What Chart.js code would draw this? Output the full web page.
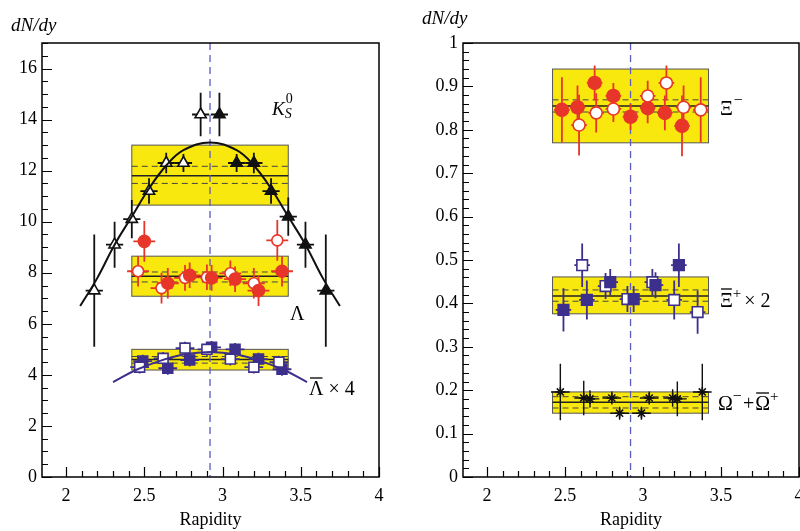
<!DOCTYPE html>
<html>
<head>
<meta charset="utf-8">
<script src="https://cdn.jsdelivr.net/npm/chart.js@4.4.1/dist/chart.umd.min.js"></script>
<style>
  html, body { margin: 0; padding: 0; background: #fff; overflow: hidden; width: 800px; height: 531px; }
  canvas { position: absolute; top: 0; }
  #left { left: 0; }
  #right { left: 400px; }
</style>
</head>
<body>
<canvas id="left" width="400" height="531" style="width:400px;height:531px"></canvas>
<canvas id="right" width="420" height="531" style="width:420px;height:531px"></canvas>
<script>
// Mid-rapidity line
const midRapidity = 2.92;

// Left panel: K0s (triangles), Lambda (circles), anti-Lambda x4 (squares)
const kOpenX = [2.18, 2.31, 2.42, 2.53, 2.64, 2.75, 2.86];
const kOpenY = [7.3, 9.1, 10.1, 11.2, 12.3, 12.3, 14.2];
const kOpenErr = [2.2, 0.9, 0.75, 0.5, 0.4, 0.35, 0.85];
const kFullX = [2.98, 3.09, 3.20, 3.31, 3.42, 3.53, 3.66];
const kFullY = [14.2, 12.3, 12.3, 11.2, 10.2, 9.1, 7.3];
const kFullErr = [0.85, 0.35, 0.4, 0.5, 0.75, 0.9, 2.2];
const kFitX = [2.09, 2.20, 2.31, 2.42, 2.53, 2.64, 2.75, 2.92, 3.09, 3.20, 3.31, 3.42, 3.53, 3.64, 3.75];
const kFitY = [6.7, 7.8, 9.1, 10.2, 11.3, 12.2, 12.8, 13.1, 12.8, 12.2, 11.3, 10.2, 9.1, 7.8, 6.7];

const lamFullX = [2.50, 2.65, 2.79, 2.93, 3.08, 3.23, 3.38];
const lamFullY = [9.23, 7.59, 7.9, 7.8, 7.75, 7.3, 8.06];
const lamFullErr = [0.8, 0.6, 0.5, 0.5, 0.5, 0.6, 0.6];
const lamOpenX = [2.46, 2.61, 2.76, 2.90, 3.05, 3.20, 3.35];
const lamOpenY = [8.06, 7.4, 7.8, 7.82, 7.98, 7.59, 9.27];
const lamOpenErr = [0.6, 0.6, 0.5, 0.5, 0.5, 0.6, 0.8];

const alamFullX = [2.49, 2.65, 2.79, 2.93, 3.08, 3.23, 3.38];
const alamFullY = [4.54, 4.26, 4.58, 5.08, 5.0, 4.62, 4.22];
const alamOpenX = [2.47, 2.62, 2.76, 2.90, 3.05, 3.20, 3.36];
const alamOpenY = [4.30, 4.65, 5.05, 5.0, 4.62, 4.30, 4.5];
const alamErr = [0.25, 0.25, 0.25, 0.25, 0.25, 0.25, 0.25];
const alamFitX = [2.30, 2.45, 2.60, 2.75, 2.92, 3.09, 3.24, 3.39, 3.54];
const alamFitY = [3.72, 4.2, 4.55, 4.8, 4.9, 4.8, 4.55, 4.2, 3.72];

// Right panel: Xi- (circles), anti-Xi+ x2 (squares), Omega (stars)
const xiFullX = [2.48, 2.58, 2.69, 2.81, 2.92, 3.03, 3.14, 3.25];
const xiFullY = [0.846, 0.852, 0.908, 0.878, 0.83, 0.85, 0.839, 0.809];
const xiFullErr = [0.075, 0.05, 0.04, 0.03, 0.03, 0.035, 0.04, 0.07];
const xiOpenX = [2.59, 2.70, 2.81, 3.03, 3.15, 3.26, 3.37];
const xiOpenY = [0.811, 0.839, 0.848, 0.878, 0.908, 0.852, 0.846];
const xiOpenErr = [0.07, 0.045, 0.03, 0.035, 0.04, 0.05, 0.075];

const axiFullX = [2.49, 2.64, 2.79, 2.94, 3.08, 3.23];
const axiFullY = [0.385, 0.408, 0.449, 0.41, 0.442, 0.488];
const axiFullErr = [0.05, 0.045, 0.03, 0.03, 0.03, 0.05];
const axiOpenX = [2.61, 2.76, 2.90, 3.06, 3.20, 3.35];
const axiOpenY = [0.488, 0.44, 0.41, 0.449, 0.408, 0.38];
const axiOpenErr = [0.05, 0.03, 0.03, 0.03, 0.045, 0.05];

const omX = [2.47, 2.62, 2.66, 2.80, 2.85, 2.99, 3.04, 3.19, 3.22, 3.38];
const omY = [0.196, 0.182, 0.180, 0.182, 0.147, 0.147, 0.182, 0.182, 0.180, 0.196];
const omErr = [0.065, 0.04, 0.02, 0.015, 0.015, 0.015, 0.015, 0.02, 0.04, 0.065];

// Systematic bands: [x0, x1], [low, high], mean, dashed lines
const bandX = [2.42, 3.42];
const kBand = { y: [10.65, 13.0], mean: 11.8, dash: [11.5, 12.17] };
const lamBand = { y: [7.08, 8.65], mean: 7.86, dash: [7.64, 8.03] };
const alamBand = { y: [4.19, 5.0], mean: 4.6, dash: [4.46, 4.72] };
const xiBand = { y: [0.77, 0.94], mean: 0.855, dash: [0.841, 0.869] };
const axiBand = { y: [0.376, 0.461], mean: 0.417, dash: [0.405, 0.431] };
const omBand = { y: [0.147, 0.196], mean: 0.172, dash: [0.159, 0.185] };

const FONT = '"Liberation Serif", "Times New Roman", serif';
const RED = '#e8352a';
const BLUE = '#3d2f8c';

const pts = (xs, ys) => xs.map((x, i) => ({ x, y: ys[i] }));

function markers(xs, ys, err, xErr, style, color, open, radius) {
  return {
    data: pts(xs, ys),
    yErr: err,
    xErr: xErr,
    pointStyle: style,
    pointRadius: radius,
    borderColor: color,
    backgroundColor: open ? '#fff' : color,
    pointBorderWidth: 1.6,
    showLine: false
  };
}

function curve(xs, ys, color) {
  return {
    data: pts(xs, ys),
    showLine: true,
    pointRadius: 0,
    borderColor: color,
    borderWidth: 2,
    tension: 0.4,
    fill: false
  };
}

// text with super/subscripts; parts = {t, size, it, dy, bar, stay}
function rich(ctx, x, y, parts) {
  ctx.fillStyle = '#000';
  ctx.strokeStyle = '#000';
  ctx.textBaseline = 'alphabetic';
  ctx.textAlign = 'left';
  parts.forEach(p => {
    ctx.font = (p.it ? 'italic ' : '') + p.size + 'px ' + FONT;
    const w = ctx.measureText(p.t).width;
    const xx = x + (p.dx || 0);
    ctx.fillText(p.t, xx, y + (p.dy || 0));
    if (p.bar) {
      ctx.lineWidth = 1.3;
      ctx.beginPath();
      ctx.moveTo(xx + 1, y - p.bar);
      ctx.lineTo(xx + w - 1, y - p.bar);
      ctx.stroke();
    }
    if (!p.stay) x = xx + w;
  });
}

function makePanel(cfg) {
  return {
    id: 'panel',
    beforeDatasetsDraw(chart) {
      const ctx = chart.ctx, sx = chart.scales.x, sy = chart.scales.y, a = chart.chartArea;
      ctx.save();
      const x0 = sx.getPixelForValue(bandX[0]), x1 = sx.getPixelForValue(bandX[1]);
      cfg.bands.forEach(b => {
        const yt = sy.getPixelForValue(b.y[1]), yb = sy.getPixelForValue(b.y[0]);
        ctx.fillStyle = '#f9e80e';
        ctx.fillRect(x0, yt, x1 - x0, yb - yt);
        ctx.strokeStyle = '#555';
        ctx.lineWidth = 1;
        ctx.setLineDash([]);
        ctx.strokeRect(x0, yt, x1 - x0, yb - yt);
        ctx.strokeStyle = '#222';
        ctx.lineWidth = 1.5;
        ctx.beginPath();
        ctx.moveTo(x0, sy.getPixelForValue(b.mean));
        ctx.lineTo(x1, sy.getPixelForValue(b.mean));
        ctx.stroke();
        ctx.strokeStyle = '#444';
        ctx.lineWidth = 1;
        ctx.setLineDash([6, 4]);
        b.dash.forEach(v => {
          ctx.beginPath();
          ctx.moveTo(x0, sy.getPixelForValue(v));
          ctx.lineTo(x1, sy.getPixelForValue(v));
          ctx.stroke();
        });
        ctx.setLineDash([]);
      });
      // mid-rapidity dashed line
      const xm = sx.getPixelForValue(midRapidity);
      ctx.strokeStyle = '#5b5bc0';
      ctx.lineWidth = 1.3;
      ctx.setLineDash([7, 5]);
      ctx.beginPath();
      ctx.moveTo(xm, a.top);
      ctx.lineTo(xm, a.bottom);
      ctx.stroke();
      ctx.setLineDash([]);
      // error bars
      chart.data.datasets.forEach(ds => {
        if (!ds.yErr) return;
        ctx.strokeStyle = ds.borderColor;
        ctx.lineWidth = ds.errWidth || 1.8;
        ds.data.forEach((p, j) => {
          const cx = sx.getPixelForValue(p.x), cy = sy.getPixelForValue(p.y);
          ctx.beginPath();
          ctx.moveTo(cx, sy.getPixelForValue(p.y - ds.yErr[j]));
          ctx.lineTo(cx, sy.getPixelForValue(p.y + ds.yErr[j]));
          ctx.moveTo(sx.getPixelForValue(p.x - ds.xErr), cy);
          ctx.lineTo(sx.getPixelForValue(p.x + ds.xErr), cy);
          ctx.stroke();
        });
      });
      ctx.restore();
    },
    afterDraw(chart) {
      const ctx = chart.ctx, sx = chart.scales.x, sy = chart.scales.y, a = chart.chartArea;
      ctx.save();
      ctx.strokeStyle = '#000';
      ctx.lineWidth = 1.5;
      ctx.strokeRect(a.left, a.top, a.right - a.left, a.bottom - a.top);
      ctx.lineWidth = 1.2;
      ctx.beginPath();
      const isMajor = (v, m) => Math.abs(v / m - Math.round(v / m)) < 1e-6;
      for (let v = 2; v <= 4.0001; v += 0.1) {
        const x = Math.round(sx.getPixelForValue(v)) + 0.5;
        const len = isMajor(v, 0.5) ? 10 : 6;
        ctx.moveTo(x, a.bottom);
        ctx.lineTo(x, a.bottom - len);
      }
      for (let v = 0; v <= cfg.yMax + 1e-9; v += cfg.yMinor) {
        const y = Math.round(sy.getPixelForValue(v)) + 0.5;
        const len = isMajor(v, cfg.yMajor) ? 10 : 6;
        ctx.moveTo(a.left, y);
        ctx.lineTo(a.left + len, y);
      }
      ctx.stroke();
      cfg.labels(ctx);
      ctx.restore();
    }
  };
}

function axes(yMax, yStep, yWidth, yFmt) {
  return {
    x: {
      type: 'linear', min: 1.846, max: 4.0,
      grid: { display: false, drawTicks: false },
      border: { display: false },
      ticks: {
        stepSize: 0.5, includeBounds: false, color: '#000', font: { family: FONT, size: 18 },
        padding: 8, maxRotation: 0, callback: v => String(Math.round(v * 10) / 10)
      },
      title: { display: true, text: 'Rapidity', color: '#000', font: { family: FONT, size: 18 }, padding: { top: 0, bottom: 0 } },
      afterFit: s => { s.height = 54; }
    },
    y: {
      type: 'linear', min: 0, max: yMax,
      grid: { display: false, drawTicks: false },
      border: { display: false },
      ticks: { stepSize: yStep, includeBounds: false, color: '#000', font: { family: FONT, size: 18 }, padding: 5, callback: yFmt },
      afterFit: s => { s.width = yWidth; }
    }
  };
}

new Chart(document.getElementById('left'), {
  type: 'scatter',
  data: {
    datasets: [
      curve(kFitX, kFitY, '#111'),
      curve(alamFitX, alamFitY, BLUE),
      markers(lamFullX, lamFullY, lamFullErr, 0.07, 'circle', RED, false, 6),
      markers(lamOpenX, lamOpenY, lamOpenErr, 0.07, 'circle', RED, true, 5.5),
      markers(alamOpenX, alamOpenY, alamErr, 0.06, 'rect', BLUE, true, 7),
      markers(alamFullX, alamFullY, alamErr, 0.06, 'rect', BLUE, false, 7),
      markers(kOpenX, kOpenY, kOpenErr, 0.055, 'triangle', '#111', true, 6.5),
      markers(kFullX, kFullY, kFullErr, 0.055, 'triangle', '#111', false, 6.5)
    ]
  },
  options: {
    responsive: false,
    animation: false,
    layout: { padding: { top: 43, right: 21, left: 0, bottom: 0 } },
    plugins: { legend: { display: false }, tooltip: { enabled: false } },
    scales: axes(17, 2, 42, v => String(v))
  },
  plugins: [makePanel({
    bands: [kBand, lamBand, alamBand],
    yMax: 17, yMinor: 0.5, yMajor: 2,
    labels: ctx => {
      rich(ctx, 11, 31, [{ t: 'dN/dy', size: 19, it: true }]);
      rich(ctx, 272, 115, [
        { t: 'K', size: 19, it: true },
        { t: '0', size: 14, dy: -12, dx: 1, stay: true },
        { t: 'S', size: 14, it: true, dy: 3 }
      ]);
      rich(ctx, 290, 320, [{ t: 'Λ', size: 20 }]);
      rich(ctx, 309, 395, [{ t: 'Λ', size: 20, bar: 17 }, { t: ' × 4', size: 20 }]);
    }
  })]
});

new Chart(document.getElementById('right'), {
  type: 'scatter',
  data: {
    datasets: [
      markers(xiOpenX, xiOpenY, xiOpenErr, 0.05, 'circle', RED, true, 6),
      markers(xiFullX, xiFullY, xiFullErr, 0.05, 'circle', RED, false, 6.5),
      markers(axiFullX, axiFullY, axiFullErr, 0.05, 'rect', BLUE, false, 7.5),
      markers(axiOpenX, axiOpenY, axiOpenErr, 0.05, 'rect', BLUE, true, 7.5),
      Object.assign(markers(omX, omY, omErr, 0.06, 'star', '#111', false, 5), { errWidth: 1.4 })
    ]
  },
  options: {
    responsive: false,
    animation: false,
    layout: { padding: { top: 43, right: 21, left: 0, bottom: 0 } },
    plugins: { legend: { display: false }, tooltip: { enabled: false } },
    scales: axes(1, 0.1, 63, v => (v === 0 ? '0' : Math.abs(v - 1) < 1e-9 ? '1' : v.toFixed(1)))
  },
  plugins: [makePanel({
    bands: [xiBand, axiBand, omBand],
    yMax: 1, yMinor: 0.02, yMajor: 0.1,
    labels: ctx => {
      rich(ctx, 22, 24, [{ t: 'dN/dy', size: 19, it: true }]);
      rich(ctx, 320, 115, [{ t: 'Ξ', size: 20 }, { t: '−', size: 16, dy: -10, dx: 1 }]);
      rich(ctx, 320, 307, [{ t: 'Ξ', size: 20, bar: 18 }, { t: '+', size: 15, dy: -9 }, { t: '× 2', size: 20, dx: 3 }]);
      rich(ctx, 318, 410, [
        { t: 'Ω', size: 20 }, { t: '−', size: 16, dy: -9 }, { t: '+', size: 20, dx: 1 },
        { t: 'Ω', size: 20, bar: 17, dx: 1 }, { t: '+', size: 15, dy: -9 }
      ]);
    }
  })]
});
</script>
</body>
</html>
